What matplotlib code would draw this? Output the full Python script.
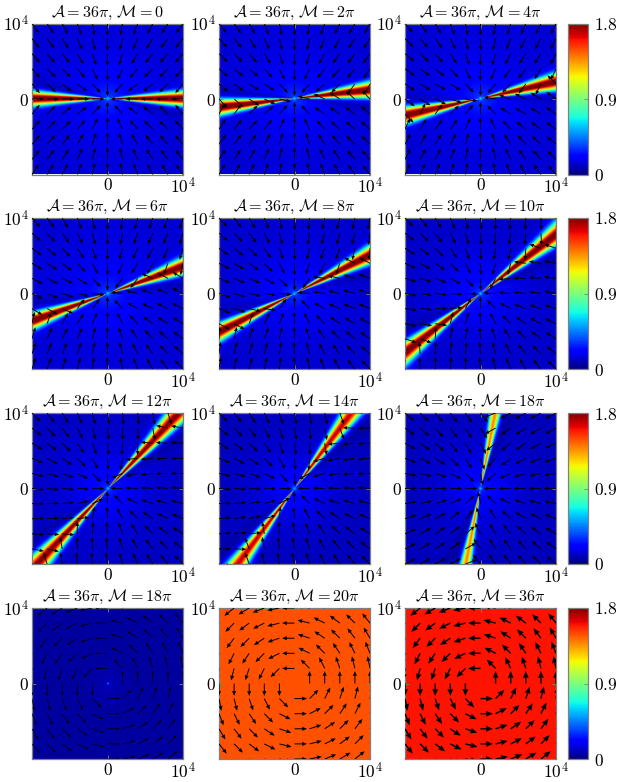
#!/usr/bin/env python3
"""
plot.py
Grid of intensity maps with director arrows and jet colorbars.
"""

import numpy as np
import matplotlib.pyplot as plt

plt.rcParams['mathtext.fontset'] = 'cm'
plt.rcParams['font.family'] = ['DejaVu Serif']

W, H = 618, 782
GRAY = '#808080'
LIM = 1e4

# --- Panel values
m_labels = ['0', r'2\pi', r'4\pi',
            r'6\pi', r'8\pi', r'10\pi',
            r'12\pi', r'14\pi', r'18\pi',
            r'18\pi', r'20\pi', r'36\pi']
band_angle = [0, 6.5, 12.5, 20, 27, 38, 47, 53, 79]   # degrees
band_peak = [1.8, 1.8, 1.8, 1.8, 1.8, 1.8, 1.72, 1.6, 1.28]
band_width = [5.4, 5.6, 5.8, 5.4, 5.2, 5.2, 5.0, 4.8, 4.0]   # degrees
background = [0.13, 0.13, 0.13, 0.13, 0.12, 0.11, 0.10, 0.09, 0.09]
flat_level = [0.05, 1.48, 1.60]
swirl_width = [0.007, 0.010, 0.014]
cbar_ticks = [0, 0.9, 1.8]

col_left = [32, 219, 405]
row_top = [23.5, 218, 413, 608]
panel_size = 151


def px_axes(fig, x0, y0, w, h):
    return fig.add_axes([x0 / W, 1 - (y0 + h) / H, w / W, h / H])


def style_axes(ax):
    ax.set_xlim(-LIM, LIM)
    ax.set_ylim(-LIM, LIM)
    ax.set_xticks([0, LIM], ['$0$', r'$10^4$'])
    ax.set_yticks([0, LIM], ['$0$', r'$10^4$'])
    ax.tick_params(direction='in', length=3, width=0.6, color=GRAY,
                   labelsize=12.5, pad=2, top=True, right=True)
    for s in ax.spines.values():
        s.set_color(GRAY)
        s.set_linewidth(0.9)


def band_field(X, Y, i):
    r = np.hypot(X, Y)
    theta = np.degrees(np.arctan2(Y, X))
    d = (theta - band_angle[i] + 90) % 180 - 90
    val = background[i] + 0.2 * np.exp(-r / 3500) + 0.3 * np.exp(-(r / 200) ** 2)
    val = val * (1 - 0.45 * np.exp(-((d + 10) / 6) ** 2))
    taper = 1 - np.exp(-(r / 500) ** 2)
    return val + band_peak[i] * taper * np.exp(-(d / band_width[i]) ** 2)


def band_arrows(gx, gy, i):
    r = np.hypot(gx, gy)
    r[r == 0] = np.nan
    theta = np.degrees(np.arctan2(gy, gx))
    d = (theta - band_angle[i] + 90) % 180 - 90
    inx, iny = -gx / r, -gy / r
    # push towards the band line, stronger close to it and far out
    a = np.radians(band_angle[i])
    nx, ny = -np.sin(a), np.cos(a)
    side = -np.sign(d) * np.sign(gx * np.cos(a) + gy * np.sin(a))
    k = 1.6 * (r / LIM) * np.exp(-np.abs(d) / 22)
    u = inx + k * side * nx
    v = iny + k * side * ny
    n = np.hypot(u, v)
    return 1600 * u / n, 1600 * v / n


# --- Grid of the maps
grid = np.linspace(-LIM, LIM, 400)
X, Y = np.meshgrid(grid, grid)
ticks = np.arange(-5, 6) * 2000.0
gx, gy = np.meshgrid(ticks, ticks)

fig = plt.figure(figsize=(W / 100, H / 100), dpi=100)

for i, label in enumerate(m_labels):
    row, col = divmod(i, 3)
    ax = px_axes(fig, col_left[col], row_top[row], panel_size, panel_size)

    if row < 3:
        Z = band_field(X, Y, i)
        u, v = band_arrows(gx.copy(), gy.copy(), i)
        lw = 0.009
    else:
        Z = np.full_like(X, flat_level[col])
        if col == 0:
            Z = Z + 0.6 * np.exp(-(np.hypot(X, Y) / 110) ** 2) \
                + 0.05 * np.exp(-np.hypot(X, Y) / 1500)
        r = np.hypot(gx, gy)
        r[r == 0] = np.nan
        u, v = -gy / r * 1650, gx / r * 1650
        lw = swirl_width[col]

    im = ax.imshow(Z, extent=[-LIM, LIM, -LIM, LIM], origin='lower',
                   cmap='jet', vmin=0, vmax=1.8, interpolation='bilinear')
    ax.quiver(gx, gy, u, v, angles='xy', scale_units='xy', scale=1, pivot='tail',
              units='inches', width=lw, headwidth=4.2, headlength=5,
              headaxislength=4.5, color='black', zorder=3)
    style_axes(ax)
    ax.set_aspect('auto')
    ax.set_title(r'$\mathcal{A}=36\pi,\,\mathcal{M}=' + label + '$',
                 fontsize=11.6, pad=5)

    if col == 2:
        cax = px_axes(fig, 568, row_top[row], 20, panel_size)
        cb = fig.colorbar(im, cax=cax, ticks=cbar_ticks)
        cb.ax.set_yticklabels(['$0$', '$0.9$', '$1.8$'])
        cb.ax.tick_params(direction='in', length=3, width=0.6, color=GRAY,
                          labelsize=12.5, pad=4)
        cb.outline.set_edgecolor(GRAY)
        cb.outline.set_linewidth(0.9)

fig.savefig('out.png', dpi=100)
